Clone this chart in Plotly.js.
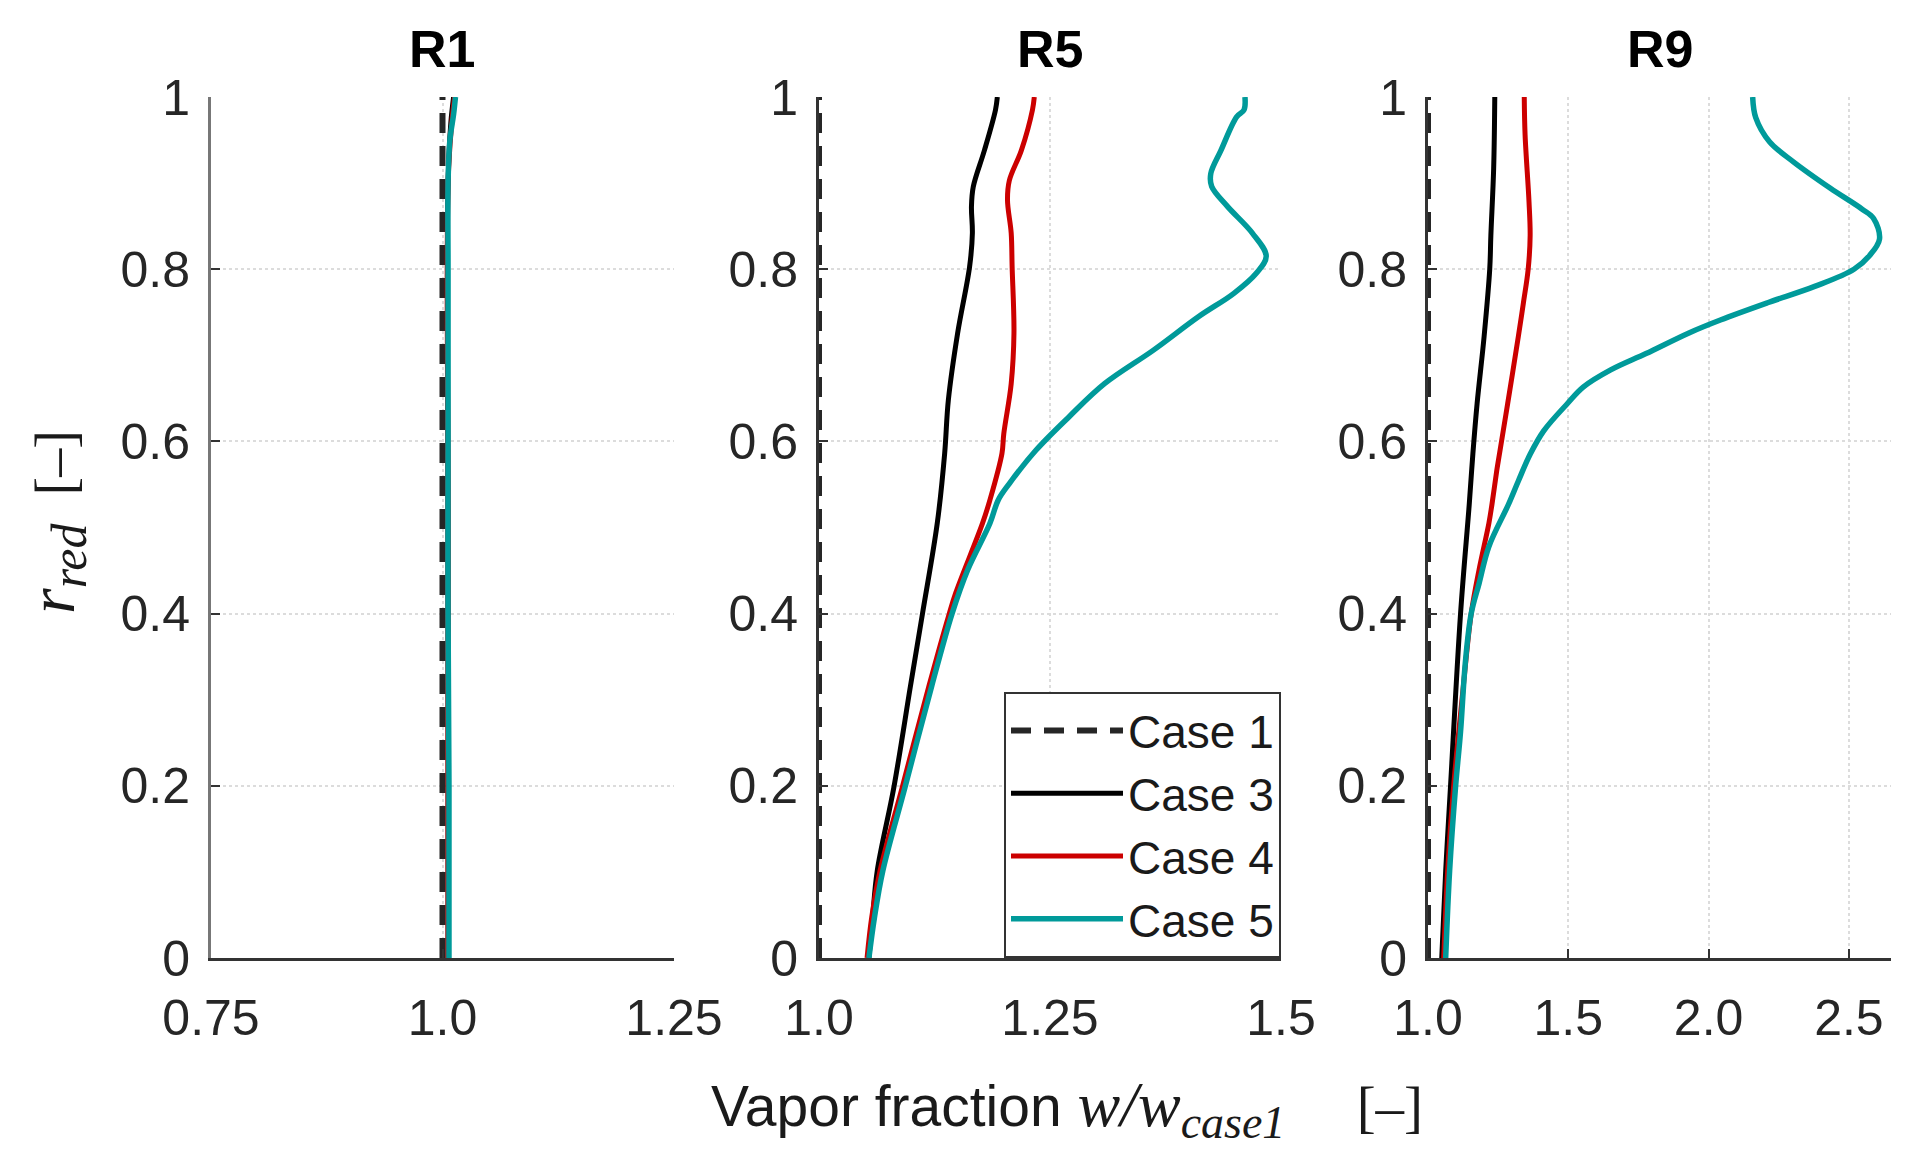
<!DOCTYPE html>
<html>
<head>
<meta charset="utf-8">
<script src="https://cdn.plot.ly/plotly-3.0.1.min.js"></script>
<style>
  html, body { margin: 0; padding: 0; background: #fff; }
  #chart { width: 1913px; height: 1175px; }
</style>
</head>
<body>
<div id="chart"></div>
<script>
// panel names and case labels
const panels = ['R1', 'R5', 'R9'];
const caseNames = ['Case 1', 'Case 3', 'Case 4', 'Case 5'];

// x tick labels per panel
const r1Ticks = [0.75, 1.0, 1.25];
const r1TickText = ['0.75', '1.0', '1.25'];
const r5Ticks = [1.0, 1.25, 1.5];
const r5TickText = ['1.0', '1.25', '1.5'];
const r9Ticks = [1.0, 1.5, 2.0, 2.5];
const r9TickText = ['1.0', '1.5', '2.0', '2.5'];
const yTicks = [0, 0.2, 0.4, 0.6, 0.8, 1];
const yTickText = ['0', '0.2', '0.4', '0.6', '0.8', '1'];

// Case 1 is the reference, so w/w_case1 = 1 everywhere
const case1R = [0, 1];
const case1W = [1.0, 1.0];

// R1 profiles
const r1Case3R = [0, 0.5, 0.9, 0.97, 1.0];
const r1Case3W = [1.006, 1.006, 1.006, 1.009, 1.012];
const r1Case4R = [0, 0.5, 0.9, 0.97, 1.0];
const r1Case4W = [1.006, 1.006, 1.006, 1.010, 1.013];
const r1Case5R = [0, 0.2, 0.4, 0.6, 0.8, 0.9, 0.95, 0.98, 1.0];
const r1Case5W = [1.007, 1.007, 1.006, 1.006, 1.006, 1.006, 1.008, 1.012, 1.014];

// R5 profiles
const r5Case3R = [0, 0.047, 0.101, 0.198, 0.316, 0.4, 0.505, 0.586, 0.648, 0.7255, 0.803, 0.842, 0.873, 0.896, 0.938, 0.985, 1.0];
const r5Case3W = [1.054, 1.058, 1.063, 1.081, 1.099, 1.112, 1.128, 1.136, 1.140, 1.150, 1.163, 1.166, 1.165, 1.167, 1.179, 1.191, 1.193];
const r5Case4R = [0, 0.047, 0.101, 0.198, 0.316, 0.4, 0.424, 0.505, 0.532, 0.586, 0.609, 0.667, 0.7255, 0.803, 0.842, 0.880, 0.903, 0.938, 0.985, 1.0];
const r5Case4W = [1.052, 1.057, 1.066, 1.090, 1.119, 1.141, 1.148, 1.177, 1.185, 1.198, 1.200, 1.208, 1.211, 1.209, 1.208, 1.204, 1.206, 1.219, 1.231, 1.233];
const r5Case5R = [0, 0.047, 0.101, 0.198, 0.316, 0.4, 0.451, 0.505, 0.532, 0.551, 0.590, 0.629, 0.667, 0.706, 0.745, 0.772, 0.795, 0.815, 0.842, 0.873, 0.896, 0.911, 0.938, 0.977, 0.985, 1.0];
const r5Case5W = [1.054, 1.060, 1.069, 1.093, 1.122, 1.144, 1.161, 1.185, 1.194, 1.206, 1.235, 1.271, 1.309, 1.362, 1.411, 1.449, 1.473, 1.484, 1.469, 1.442, 1.425, 1.424, 1.435, 1.452, 1.460, 1.461];

// R9 profiles
const r9Case3R = [0, 0.101, 0.198, 0.4, 0.527, 0.586, 0.644, 0.722, 0.8, 0.839, 0.917, 1.0];
const r9Case3W = [1.049, 1.063, 1.080, 1.116, 1.147, 1.160, 1.175, 1.200, 1.220, 1.224, 1.234, 1.238];
const r9Case4R = [0, 0.101, 0.198, 0.316, 0.4, 0.451, 0.505, 0.527, 0.566, 0.586, 0.644, 0.722, 0.761, 0.8, 0.839, 0.878, 0.956, 1.0];
const r9Case4W = [1.056, 1.070, 1.091, 1.126, 1.154, 1.182, 1.217, 1.228, 1.245, 1.255, 1.284, 1.322, 1.340, 1.357, 1.364, 1.360, 1.346, 1.343];
const r9Case5R = [0, 0.101, 0.198, 0.263, 0.343, 0.4, 0.435, 0.478, 0.527, 0.554, 0.585, 0.6125, 0.644, 0.663, 0.683, 0.702, 0.726, 0.741, 0.761, 0.780, 0.8, 0.816, 0.835, 0.859, 0.870, 0.894, 0.925, 0.948, 0.976, 1.0];
const r9Case5W = [1.063, 1.077, 1.098, 1.116, 1.133, 1.154, 1.182, 1.217, 1.287, 1.322, 1.364, 1.413, 1.497, 1.553, 1.651, 1.777, 1.930, 2.042, 2.210, 2.378, 2.518, 2.574, 2.609, 2.588, 2.546, 2.434, 2.301, 2.217, 2.168, 2.157];

const lineStyles = [
  {color: '#262626', width: 6, dash: '20px,13px'},
  {color: '#000000', width: 5, shape: 'spline', smoothing: 1},
  {color: '#cc0000', width: 5, shape: 'spline', smoothing: 1},
  {color: '#009a9a', width: 5.5, shape: 'spline', smoothing: 1}
];

const profiles = [
  [[case1W, case1R], [r1Case3W, r1Case3R], [r1Case4W, r1Case4R], [r1Case5W, r1Case5R]],
  [[case1W, case1R], [r5Case3W, r5Case3R], [r5Case4W, r5Case4R], [r5Case5W, r5Case5R]],
  [[case1W, case1R], [r9Case3W, r9Case3R], [r9Case4W, r9Case4R], [r9Case5W, r9Case5R]]
];

let traces = [];
profiles.forEach((panel, p) => {
  let suffix = p === 0 ? '' : String(p + 1);
  panel.forEach((xy, c) => {
    traces.push({
      x: xy[0], y: xy[1],
      type: 'scatter', mode: 'lines',
      name: caseNames[c],
      xaxis: 'x' + suffix, yaxis: 'y' + suffix,
      line: lineStyles[c],
      showlegend: p === 1,
      hoverinfo: 'skip'
    });
  });
});

const W = 1913, H = 1175;
const tickFont = {family: 'Liberation Sans, Arial, sans-serif', size: 50, color: '#262626'};

function xAxis(left, right, range, vals, text, anchor) {
  return {
    domain: [left / W, right / W], range: range, anchor: anchor,
    tickvals: vals, ticktext: text, tickfont: tickFont,
    ticks: 'inside', ticklen: 9, tickwidth: 2, tickcolor: '#333',
    showline: true, linecolor: '#333', linewidth: 3,
    showgrid: true, gridcolor: '#dcdcdc', griddash: 'dot', gridwidth: 2,
    zeroline: false, ticklabelstandoff: 14, fixedrange: true
  };
}

function yAxis(anchor, lineColor) {
  return {
    domain: [1 - 958 / H, 1 - 97 / H], range: [0, 1], anchor: anchor,
    tickvals: yTicks, ticktext: yTickText, tickfont: tickFont,
    ticks: 'inside', ticklen: 9, tickwidth: 2, tickcolor: '#333',
    showline: true, linecolor: lineColor, linewidth: 3,
    showgrid: true, gridcolor: '#dcdcdc', griddash: 'dot', gridwidth: 2,
    zeroline: false, ticklabelstandoff: 8, fixedrange: true
  };
}

const serif = 'Liberation Serif, Times New Roman, serif';
const sans = 'Liberation Sans, Arial, sans-serif';

let annotations = panels.map((name, i) => {
  let centers = [442, 1050, 1660];
  return {
    text: '<b>' + name + '</b>', xref: 'paper', yref: 'paper',
    x: centers[i] / W, y: 1 - 49 / H, xanchor: 'center', yanchor: 'middle',
    showarrow: false, font: {family: sans, size: 52, color: '#000'}
  };
});

annotations.push({
  text: 'Vapor fraction <span style="font-family:' + serif + ';font-size:64px"><i>w/w</i></span>' +
    '<sub><span style="font-family:' + serif + ';font-size:46px"><i>case1</i></span></sub>' +
    '<span style="font-family:' + serif + '">&nbsp;&nbsp;&nbsp;&nbsp;&nbsp;[–]</span>',
  xref: 'paper', yref: 'paper', x: 709 / W, y: 1 - 1108 / H,
  xanchor: 'left', yanchor: 'middle', showarrow: false,
  font: {family: sans, size: 57, color: '#1a1a1a'}
});

annotations.push({
  text: '<span style="font-size:66px"><i>r</i></span><sub><span style="font-size:50px"><i>red</i></span></sub>&nbsp;&nbsp;[–]',
  xref: 'paper', yref: 'paper', x: 56 / W, y: 1 - 522 / H,
  xanchor: 'center', yanchor: 'middle', textangle: -90, showarrow: false,
  font: {family: serif, size: 56, color: '#1a1a1a'}
});

const layout = {
  width: W, height: H,
  margin: {l: 0, r: 0, t: 0, b: 0},
  paper_bgcolor: '#fff', plot_bgcolor: '#fff',
  xaxis: xAxis(211, 674, [0.75, 1.25], r1Ticks, r1TickText, 'y'),
  yaxis: yAxis('x', '#777'),
  xaxis2: xAxis(819, 1281, [1.0, 1.5], r5Ticks, r5TickText, 'y2'),
  yaxis2: yAxis('x2', '#333'),
  xaxis3: xAxis(1428, 1891, [1.0, 2.65], r9Ticks, r9TickText, 'y3'),
  yaxis3: yAxis('x3', '#333'),
  legend: {
    x: 1281 / W, y: 1 - 958 / H, xanchor: 'right', yanchor: 'bottom',
    bgcolor: '#fff', bordercolor: '#333', borderwidth: 2,
    font: {family: sans, size: 46, color: '#1a1a1a'},
    itemwidth: 112, tracegroupgap: 0
  },
  annotations: annotations,
  showlegend: true
};

Plotly.newPlot('chart', traces, layout, {displayModeBar: false, staticPlot: true});
</script>
</body>
</html>
